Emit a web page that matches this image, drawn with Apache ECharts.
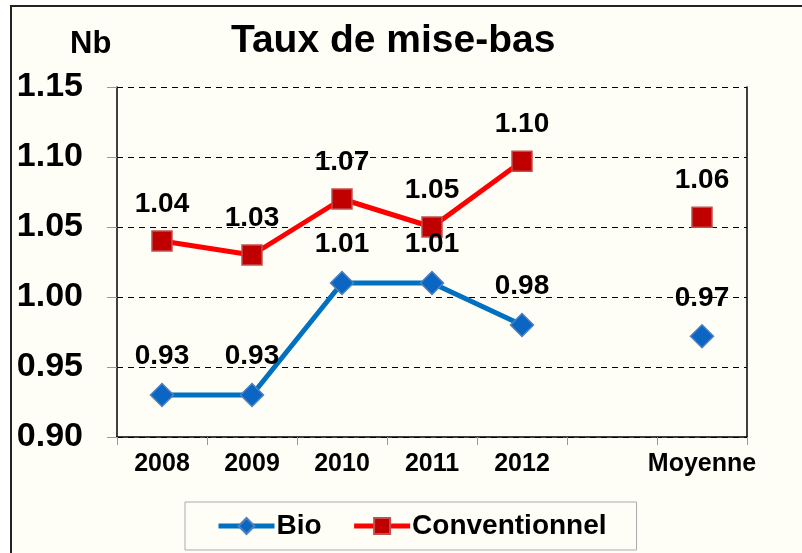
<!DOCTYPE html>
<html>
<head>
<meta charset="utf-8">
<script src="https://cdn.jsdelivr.net/npm/echarts@6/dist/echarts.min.js"></script>
<style>
  html, body { margin: 0; padding: 0; background: #fff; }
  #chart { width: 802px; height: 553px; }
</style>
</head>
<body>
<div id="chart"></div>
<script>
// categories (empty slot before the average, as in the original sheet)
const categories = ['2008', '2009', '2010', '2011', '2012', '', 'Moyenne'];
const bioValues = [0.93, 0.93, 1.01, 1.01, 0.98, null, 0.972];
const convValues = [1.04, 1.03, 1.07, 1.05, 1.097, null, 1.057];
const yTicks = [0.90, 0.95, 1.00, 1.05, 1.10, 1.15];

const font = 'Liberation Sans, Arial, sans-serif';

const chart = echarts.init(document.getElementById('chart'));

function labelStyle() {
  return {
    show: true,
    position: 'top',
    distance: 12,
    fontFamily: font,
    fontWeight: 'bold',
    fontSize: 28,
    color: '#000',
    formatter: p => p.value == null ? '' : Number(p.value).toFixed(2)
  };
}

chart.setOption({
  backgroundColor: '#fff',
  animation: false,
  graphic: [{
    type: 'rect',
    z: -10,
    shape: { x: 11, y: 6, width: 900, height: 900 },
    style: { fill: '#FFFEF6', stroke: '#222', lineWidth: 2 }
  }],
  title: [{
    text: 'Taux de mise-bas',
    left: 231,
    top: 22,
    padding: 0,
    textStyle: { fontFamily: font, fontWeight: 'bold', fontSize: 39, color: '#000' }
  }, {
    text: 'Nb',
    left: 70,
    top: 29,
    padding: 0,
    textStyle: { fontFamily: font, fontWeight: 'bold', fontSize: 31, color: '#000' }
  }],
  legend: {
    left: 185,
    top: 502,
    padding: [10, 30, 10, 31],
    itemWidth: 56,
    itemHeight: 20,
    itemGap: 30,
    borderColor: '#aaa',
    borderWidth: 1,
    backgroundColor: '#FFFEF6',
    lineStyle: { width: 5 },
    textStyle: { fontFamily: font, fontWeight: 'bold', fontSize: 28, color: '#000', padding: [0, 0, 0, -3] },
    data: ['Bio', 'Conventionnel']
  },
  grid: { left: 117, right: 55, top: 87, bottom: 116 },
  xAxis: {
    type: 'category',
    data: categories,
    boundaryGap: true,
    axisLine: { lineStyle: { color: '#000', width: 1.5 } },
    axisTick: { show: true, length: 8, lineStyle: { color: '#999' } },
    axisLabel: { margin: 15, fontFamily: font, fontWeight: 'bold', fontSize: 25, color: '#000', interval: 0 }
  },
  yAxis: [{
    type: 'value',
    min: yTicks[0],
    max: yTicks[yTicks.length - 1],
    interval: 0.05,
    axisLine: { show: true, lineStyle: { color: '#000', width: 1.5 } },
    axisTick: { show: true, length: 10, lineStyle: { color: '#999' } },
    axisLabel: {
      margin: 34,
      fontFamily: font, fontWeight: 'bold', fontSize: 34, color: '#000',
      formatter: v => v.toFixed(2)
    },
    splitLine: { show: true, lineStyle: { color: '#000', type: [6, 5], width: 1.2 } }
  }, {
    // right frame of the plot area
    type: 'value',
    position: 'right',
    min: yTicks[0],
    max: yTicks[yTicks.length - 1],
    interval: 0.05,
    axisLine: { show: true, lineStyle: { color: '#000', width: 1.5 } },
    axisTick: { show: false },
    axisLabel: { show: false },
    splitLine: { show: false }
  }],
  series: [{
    name: 'Bio',
    type: 'line',
    data: bioValues,
    connectNulls: false,
    symbol: 'diamond',
    symbolSize: 23,
    lineStyle: { color: '#0070C0', width: 5 },
    itemStyle: { color: '#0A66C2', borderColor: '#4F81BD', borderWidth: 1.5 },
    label: labelStyle(),
    z: 3
  }, {
    name: 'Conventionnel',
    type: 'line',
    data: convValues,
    connectNulls: false,
    symbol: 'rect',
    symbolSize: 20,
    lineStyle: { color: '#FF0000', width: 5 },
    itemStyle: { color: '#C00000', borderColor: '#C0504D', borderWidth: 1.5 },
    label: labelStyle(),
    z: 3
  }]
});
</script>
</body>
</html>
